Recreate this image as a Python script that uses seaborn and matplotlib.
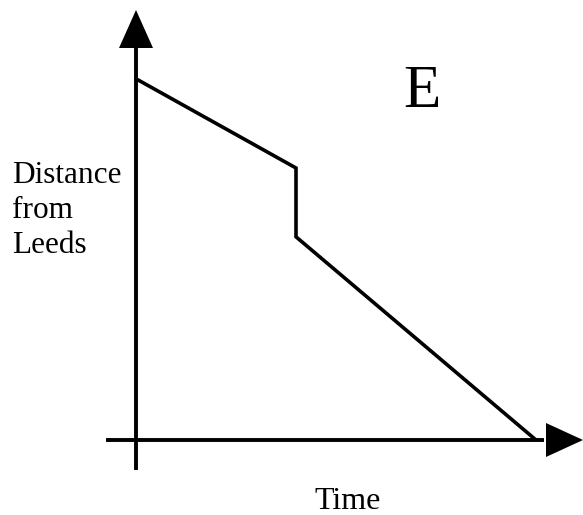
import seaborn as sns
import matplotlib.pyplot as plt
import pandas as pd

# distance-time sketch "E"
time = [0, 4, 4, 10]
distance = [9.03, 6.8, 5.08, 0]
ylabel_lines = ["Distance", "from", "Leeds"]
xlabel = "Time"
panel = "E"

sns.set_style("white")
plt.rcParams['font.family'] = ['Liberation Serif', 'DejaVu Serif']

fig = plt.figure(figsize = (5.83, 5.15), dpi = 100)
fig.patch.set_facecolor('white')
ax = fig.add_axes([0, 0, 1, 1])
ax.set_xlim(-3.4, 11.175)
ax.set_ylim(-1.875, 11.0)
ax.axis('off')

df = pd.DataFrame({'time': time, 'distance': distance})
sns.lineplot(data = df, x = 'time', y = 'distance', sort = False, estimator = None,
             errorbar = None, color = 'black', lw = 2.6, ax = ax, solid_joinstyle = 'miter')

# axes with arrow heads
ax.plot([0, 0], [-0.75, 9.85], color = 'black', lw = 2.8, solid_capstyle = 'butt')
ax.plot([-0.75, 10.2], [0, 0], color = 'black', lw = 2.8, solid_capstyle = 'butt')
ax.fill([-0.425, 0.425, 0], [9.8, 9.8, 10.75], color = 'black', lw = 0)
ax.fill([10.25, 10.25, 11.175], [-0.425, 0.425, 0], color = 'black', lw = 0)

for line, y in zip(ylabel_lines, [6.425, 5.55, 4.675]):
    ax.text(-3.1, y, line, fontsize = 22.5, va = 'baseline', ha = 'left', color = 'black')
ax.text(5.3, -1.72, xlabel, fontsize = 23, va = 'baseline', ha = 'center', color = 'black')
ax.text(7.15, 8.325, panel, fontsize = 44, va = 'baseline', ha = 'center', color = 'black')

fig.savefig('out.png', dpi = 100)
